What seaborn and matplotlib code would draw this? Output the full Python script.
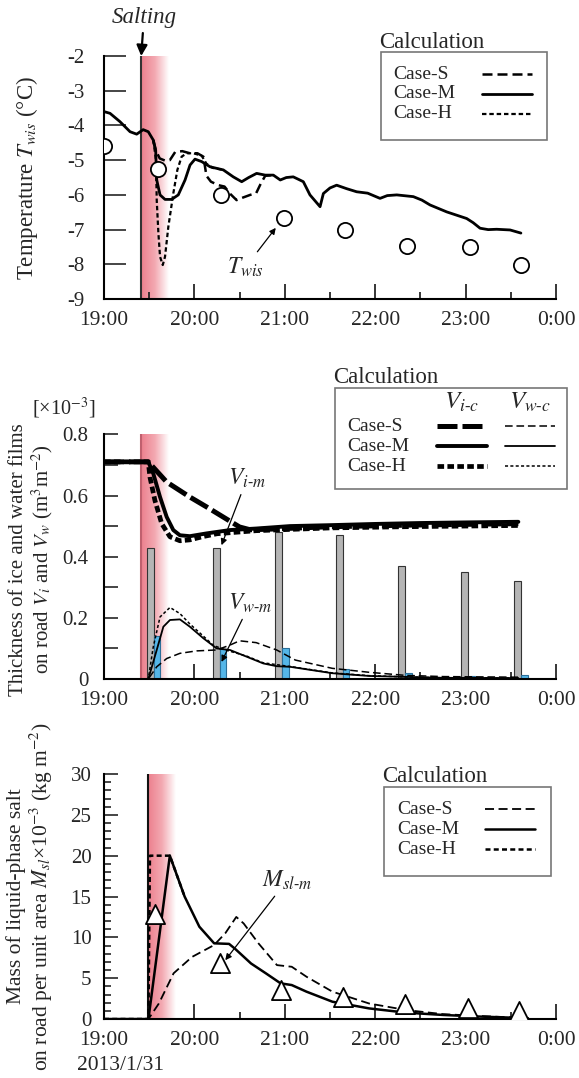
import numpy as np
import matplotlib.pyplot as plt
import seaborn as sns
from matplotlib.lines import Line2D
from matplotlib.colors import LinearSegmentedColormap
from matplotlib.ticker import MultipleLocator, FixedLocator

# time axis: minutes after 19:00
hour_ticks = [0, 60, 120, 180, 240, 300]
hour_labels = ['19:00', '20:00', '21:00', '22:00', '23:00', '0:00']
case_labels = ['Case-S', 'Case-M', 'Case-H']

# ---- panel 1: road surface temperature ----
twis_t = [0, 35.6, 77.5, 119.2, 160.2, 201.3, 242.7, 277]
twis_v = [-4.59, -5.26, -6.0, -6.67, -7.02, -7.47, -7.51, -8.02]

tM_t = [0, 4, 10.6, 17.3, 21.7, 26, 29.4, 32.7, 34.3, 35, 37.2, 40.5, 44.9, 49.3, 53.8, 57.1,
        60.4, 64.8, 70.4, 79.2, 85.8, 91.4, 96, 101.3, 107, 112.4, 117, 121, 125.6, 129, 132.3,
        136.7, 143.4, 145.6, 150, 154.4, 161, 167.7, 175, 183.2, 188, 194.3, 205.3, 211, 216.4,
        227.5, 240.7, 245, 249.6, 255, 260.6, 265, 269.5, 276.7]
tM_v = [-3.60, -3.65, -3.89, -4.18, -4.25, -4.12, -4.18, -4.42, -4.71, -5.57, -6.0, -6.13, -6.13,
        -6.0, -5.57, -5.14, -4.97, -5.04, -5.19, -5.28, -5.48, -5.62, -5.5, -5.38, -5.43, -5.43,
        -5.57, -5.5, -5.48, -5.55, -5.62, -6.0, -6.34, -5.96, -5.8, -5.72, -5.82, -5.91, -5.95,
        -6.1, -6.02, -6.0, -6.05, -6.15, -6.29, -6.49, -6.68, -6.8, -6.96, -7.0, -6.99, -7.0,
        -7.01, -7.1]
tH_t = [32.7, 34.5, 35, 36.1, 37.2, 39, 40.5, 42.7, 46, 48.7, 51.5, 54.9, 59.3, 64.8, 68, 72, 79.2]
tH_v = [-4.42, -5.0, -6.15, -7.1, -7.78, -8.02, -7.78, -6.92, -5.96, -5.28, -4.9, -4.8, -4.8,
        -4.87, -5.1, -5.22, -5.28]
tS_t = [32.7, 34.3, 37, 41, 43.7, 47.3, 52, 57, 62, 66, 68, 71, 76, 80, 84, 88, 92, 97, 101,
        104, 107, 112.4]
tS_v = [-4.42, -4.71, -4.95, -5.02, -5.0, -4.76, -4.74, -4.8, -4.8, -4.9, -5.45, -5.62, -5.72,
        -5.76, -5.98, -6.15, -6.08, -6.0, -5.95, -5.68, -5.45, -5.43]

# ---- panel 2: ice / water film thickness (x1e-3) ----
bar_t = [33, 76.7, 118, 158.4, 199.8, 241.7, 276.6]
vi_m = [0.43, 0.43, 0.48, 0.47, 0.37, 0.35, 0.32]
vw_m = [0.141, 0.097, 0.10, 0.032, 0.019, 0.01, 0.013]

viM_t = [0, 29.4, 32.7, 37.2, 41.6, 46, 50.4, 57, 68, 83.6, 101, 123.5, 150, 180, 210, 240, 275]
viM_v = [0.71, 0.71, 0.672, 0.595, 0.53, 0.487, 0.47, 0.467, 0.476, 0.487, 0.492, 0.50, 0.503,
         0.507, 0.51, 0.512, 0.514]
viH_t = [0, 29.4, 30.5, 33.8, 38.3, 43.8, 50.4, 57, 66, 75, 101, 150, 200, 275]
viH_v = [0.71, 0.71, 0.66, 0.584, 0.508, 0.465, 0.452, 0.455, 0.466, 0.475, 0.485, 0.494, 0.498,
         0.502]
viS_t = [0, 29.4, 41.6, 57, 68, 79, 90, 97, 110, 150, 200, 275]
viS_v = [0.71, 0.71, 0.644, 0.595, 0.563, 0.53, 0.497, 0.488, 0.49, 0.498, 0.503, 0.508]

vwM_t = [0, 29.4, 35, 39.4, 43.8, 50.4, 57, 66, 74.8, 83.6, 94.7, 105.7, 114.6, 123.5, 151.5,
         176, 200, 225, 275]
vwM_v = [0, 0, 0.095, 0.171, 0.193, 0.195, 0.171, 0.133, 0.10, 0.095, 0.073, 0.051, 0.042,
         0.04, 0.019, 0.01, 0.007, 0.004, 0.003]
vwH_t = [0, 29.4, 32.7, 37.2, 43.8, 50.4, 57, 66, 72.6, 80, 94.7, 105.7, 123.5, 151.5, 176,
         200, 225, 275]
vwH_v = [0, 0, 0.105, 0.203, 0.234, 0.214, 0.18, 0.14, 0.11, 0.096, 0.075, 0.053, 0.041, 0.02,
         0.011, 0.007, 0.004, 0.003]
vwS_t = [0, 29.4, 35, 41.6, 50.4, 61.5, 74.8, 83.6, 90, 101, 114.6, 127, 151.5, 176, 200, 225,
         275]
vwS_v = [0, 0, 0.04, 0.067, 0.084, 0.092, 0.095, 0.111, 0.125, 0.119, 0.095, 0.062, 0.035,
         0.022, 0.012, 0.008, 0.006]

# ---- panel 3: liquid-phase salt (x1e-3 kg m-2) ----
msl_t = [33.9, 77.3, 117.7, 158.4, 199.6, 241.3, 275.3]
msl_v = [12.8, 6.8, 3.6, 2.65, 1.84, 1.3, 1.0]

mM_t = [0, 29.5, 43.7, 53.5, 63.3, 73.1, 83, 87, 97.6, 107.4, 117.2, 124.6, 134.4, 151.6, 176,
        200.6, 225, 249.6, 281.4]
mM_v = [0, 0, 20, 15.0, 11.3, 9.27, 9.2, 8.6, 6.8, 5.6, 4.37, 4.16, 3.35, 2.12, 1.3, 0.78,
        0.5, 0.3, 0.1]
mH_t = [0, 29.5, 30.5, 43.7, 53.5]
mH_v = [0, 0, 20, 20, 15.0]
mS_t = [0, 29.5, 36.4, 46.2, 58.4, 73.1, 80.5, 87.8, 92.7, 102.5, 114.8, 124.6, 134.4, 151.6,
        176, 200.6, 225, 249.6, 281.4]
mS_v = [0, 0, 1.9, 5.6, 7.6, 9.06, 10.5, 12.5, 11.7, 9.27, 6.6, 6.4, 5.18, 3.35, 1.9, 1.1,
        0.6, 0.37, 0.12]

sns.set_style('ticks')
plt.rcParams['font.family'] = ['Liberation Serif', 'DejaVu Serif']
plt.rcParams['mathtext.fontset'] = 'stix'
plt.rcParams['axes.unicode_minus'] = False

pink = LinearSegmentedColormap.from_list('salt', ['#ec7f8d', '#f3a9b2', '#ffffff'])

S_STYLE = (0, (4, 2))
H_STYLE = (0, (2, 1.3))
LEG_FS = 14


def line(ax, t, v, ls='-', lw=1.5):
    sns.lineplot(x=t, y=v, ax=ax, color='k', lw=lw, linestyle=ls, sort=False,
                 estimator=None, legend=False, zorder=4)


def salt_band(ax, t0, t1, ylo, yhi, edge):
    grad = np.linspace(0, 1, 200).reshape(1, -1)
    ax.imshow(grad, cmap=pink, extent=[t0, t1, ylo, yhi], aspect='auto', zorder=0)
    ax.axvline(t0, color=edge, lw=1.5, zorder=1)


def time_axis(ax):
    ax.set_xlim(0, 300)
    ax.xaxis.set_major_locator(FixedLocator(hour_ticks))
    ax.set_xticklabels(hour_labels)
    ax.xaxis.set_minor_locator(MultipleLocator(30))
    ax.tick_params(axis='x', which='major', direction='in', length=11, width=1.3,
                   labelsize=15.5, pad=8.5)
    ax.tick_params(axis='x', which='minor', direction='in', length=5, width=1.3)
    sns.despine(ax=ax)
    for s in ['left', 'bottom']:
        ax.spines[s].set_linewidth(1.5)
        ax.spines[s].set_color('k')


def calc_legend(ax, x0, ytop, tx, ty, handles, **kw):
    # blank legend labels; the case names are written afterwards, left aligned
    ax.text(tx, ty, 'Calculation', transform=ax.transAxes, fontsize=16.5, va='baseline')
    leg = ax.legend(handles, [' '] * len(handles), loc='upper left',
                    bbox_to_anchor=(x0, ytop), borderaxespad=0, frameon=True,
                    fancybox=False, markerfirst=False, fontsize=LEG_FS, handlelength=2.58,
                    labelspacing=0.12, **kw)
    leg.get_frame().set_edgecolor('#555555')
    leg.get_frame().set_linewidth(1.2)
    return leg


fig = plt.figure(figsize=(5.79, 10.78), dpi=100)
ax1 = fig.add_axes([0.1796, 0.7226, 0.7807, 0.2254])
ax2 = fig.add_axes([0.1796, 0.3701, 0.7807, 0.2270])
ax3 = fig.add_axes([0.1796, 0.0547, 0.7807, 0.2273])

# ---------------- panel 1 ----------------
salt_band(ax1, 24.7, 43, -9, -2, '#333333')
line(ax1, tM_t, tM_v, '-', 2.0)
line(ax1, tS_t, tS_v, S_STYLE, 1.8)
line(ax1, tH_t, tH_v, H_STYLE, 1.6)
sns.scatterplot(x=twis_t, y=twis_v, ax=ax1, marker='o', s=120, color='white',
                edgecolor='k', linewidth=1.3, zorder=5, legend=False)
ax1.set_ylim(-9, -2)
ax1.yaxis.set_major_locator(MultipleLocator(1))
ax1.tick_params(axis='y', direction='in', length=16, width=1.2, labelsize=15, pad=14)
time_axis(ax1)
ax1.set_ylabel('Temperature $T_{wis}$ (°C)', fontsize=16.5)
ax1.yaxis.set_label_coords(-0.142, 0.5)
ax1.annotate('Salting', xy=(24.7, -2.0), xytext=(26.5, -0.9), ha='center', va='center',
             fontsize=16.5, fontstyle='italic', annotation_clip=False,
             arrowprops=dict(arrowstyle='-|>', color='k', lw=1.6, mutation_scale=16,
                             shrinkA=1, shrinkB=0))
ax1.annotate('$T_{wis}$', xy=(114, -6.95), xytext=(93.6, -8.1), ha='center', va='center',
             fontsize=17, arrowprops=dict(arrowstyle='-|>', color='k', lw=0.9,
                                          mutation_scale=9, shrinkA=1, shrinkB=0))
h1 = [Line2D([], [], color='k', lw=1.8, ls=S_STYLE), Line2D([], [], color='k', lw=2.0),
      Line2D([], [], color='k', lw=1.6, ls=H_STYLE)]
leg1 = calc_legend(ax1, 0.612, 1.018, 0.608, 1.033, h1, handletextpad=4.15, borderpad=0.8)

# ---------------- panel 2 ----------------
salt_band(ax2, 24.7, 43, 0, 0.8, '#c0606e')
bw = 4.5
ax2.bar([t - bw / 2 for t in bar_t], vi_m, width=bw, color='#b5b5b5', edgecolor='#333333',
        linewidth=0.8, zorder=2)
ax2.bar([t + bw / 2 for t in bar_t], vw_m, width=bw, color='#55b6e8', edgecolor='#2c6f99',
        linewidth=0.8, zorder=2)
SI_STYLE = (0, (4, 1))
HI_STYLE = (0, (1.4, 0.7))
line(ax2, viS_t, viS_v, SI_STYLE, 3.6)
line(ax2, viM_t, viM_v, '-', 2.8)
line(ax2, viH_t, viH_v, HI_STYLE, 3.4)
line(ax2, vwS_t, vwS_v, (0, (5, 2.5)), 1.1)
line(ax2, vwM_t, vwM_v, '-', 1.3)
line(ax2, vwH_t, vwH_v, (0, (2, 1.5)), 1.1)
ax2.set_ylim(0, 0.8)
ax2.yaxis.set_major_locator(FixedLocator([0, 0.2, 0.4, 0.6, 0.8]))
ax2.set_yticklabels(['0', '0.2', '0.4', '0.6', '0.8'])
ax2.yaxis.set_minor_locator(MultipleLocator(0.1))
ax2.tick_params(axis='y', which='both', direction='in', length=10, width=1.2, labelsize=15,
                pad=11)
time_axis(ax2)
ax2.set_ylabel('Thickness of ice and water films\non road $V_i$ and $V_w$ (m$^3$m$^{-2}$)',
               fontsize=15, linespacing=1.1)
ax2.yaxis.set_label_coords(-0.108, 0.49)
ax2.text(-0.159, 1.105, '[×10$^{-3}$]', transform=ax2.transAxes, ha='left', va='center',
         fontsize=14.5)
ax2.annotate('$V_{i\u2010m}$', xy=(78, 0.4375), xytext=(95, 0.656), ha='center',
             va='center', fontsize=17,
             arrowprops=dict(arrowstyle='-|>', color='k', lw=0.9, mutation_scale=9,
                             shrinkA=1, shrinkB=0))
ax2.annotate('$V_{w\u2010m}$', xy=(78, 0.056), xytext=(97, 0.248), ha='center',
             va='center', fontsize=17,
             arrowprops=dict(arrowstyle='-|>', color='k', lw=0.9, mutation_scale=9,
                             shrinkA=1, shrinkB=0))
blank = Line2D([], [], lw=0)
h2 = [blank,
      Line2D([], [], color='k', lw=3.6, ls=SI_STYLE),
      Line2D([], [], color='k', lw=2.8),
      Line2D([], [], color='k', lw=3.4, ls=HI_STYLE),
      blank,
      Line2D([], [], color='k', lw=1.1, ls=(0, (5, 2.5))),
      Line2D([], [], color='k', lw=1.3),
      Line2D([], [], color='k', lw=1.1, ls=(0, (2, 1.5)))]
leg2 = calc_legend(ax2, 0.511, 1.189, 0.507, 1.21, h2, ncol=2, handletextpad=4.4,
                   columnspacing=-3.75, borderpad=0.6)

# ---------------- panel 3 ----------------
salt_band(ax3, 29.5, 48, 0, 30, '#111111')
line(ax3, mS_t, mS_v, (0, (5, 2.5)), 1.3)
line(ax3, mM_t, mM_v, '-', 1.8)
line(ax3, mH_t, mH_v, H_STYLE, 1.8)
sns.scatterplot(x=msl_t, y=msl_v, ax=ax3, marker='^', s=190, color='white', edgecolor='k',
                linewidth=1.3, zorder=5, legend=False)
ax3.set_ylim(0, 30)
ax3.yaxis.set_major_locator(MultipleLocator(5))
ax3.yaxis.set_minor_locator(MultipleLocator(1))
ax3.tick_params(axis='y', which='major', direction='in', length=10, width=1.2, labelsize=15,
                pad=9)
ax3.tick_params(axis='y', which='minor', direction='in', length=5, width=1.2)
time_axis(ax3)
ax3.set_ylabel('Mass of liquid-phase salt\non road per unit area $M_{sl}$×10$^{-3}$ (kg m$^{-2}$)',
               fontsize=15.5, linespacing=1.1)
ax3.yaxis.set_label_coords(-0.108, 0.5)
ax3.text(-0.06, -0.19, '2013/1/31', transform=ax3.transAxes, ha='left', va='center',
         fontsize=15.5)
ax3.annotate('$M_{sl\u2010m}$', xy=(80.5, 7.2), xytext=(121.5, 17.0), ha='center',
             va='center', fontsize=17,
             arrowprops=dict(arrowstyle='-|>', color='k', lw=0.9, mutation_scale=9,
                             shrinkA=1, shrinkB=0))
h3 = [Line2D([], [], color='k', lw=1.3, ls=(0, (5, 2.5))), Line2D([], [], color='k', lw=1.8),
      Line2D([], [], color='k', lw=1.8, ls=H_STYLE)]
leg3 = calc_legend(ax3, 0.619, 0.947, 0.615, 0.967, h3, handletextpad=4.15, borderpad=0.8)

# ---- case names (left aligned in the box) and column headers ----
fig.canvas.draw()
r = fig.canvas.get_renderer()
inv = fig.transFigure.inverted()


def put_labels(leg, idx, inset):
    frame = leg.get_frame().get_window_extent(r)
    hs = leg.legend_handles
    for i, lab in zip(idx, case_labels):
        bb = hs[i].get_window_extent(r)
        fx, fy = inv.transform((frame.x0 + inset, (bb.y0 + bb.y1) / 2))
        fig.text(fx, fy, lab, ha='left', va='center', fontsize=LEG_FS)


put_labels(leg1, [0, 1, 2], 13)
put_labels(leg2, [1, 2, 3], 12)
put_labels(leg3, [0, 1, 2], 13)

hs = leg2.legend_handles
bS1 = hs[1].get_window_extent(r)
bM1 = hs[2].get_window_extent(r)
bS2 = hs[5].get_window_extent(r)
yS = (bS1.y0 + bS1.y1) / 2
yM = (bM1.y0 + bM1.y1) / 2
yh = yS + (yS - yM) * 1.2
for bb, txt in [(bS1, '$V_{i\u2010c}$'), (bS2, '$V_{w\u2010c}$')]:
    fx, fy = inv.transform(((bb.x0 + bb.x1) / 2, yh))
    fig.text(fx, fy, txt, ha='center', va='center', fontsize=18)

fig.savefig('out.png', dpi=100)
